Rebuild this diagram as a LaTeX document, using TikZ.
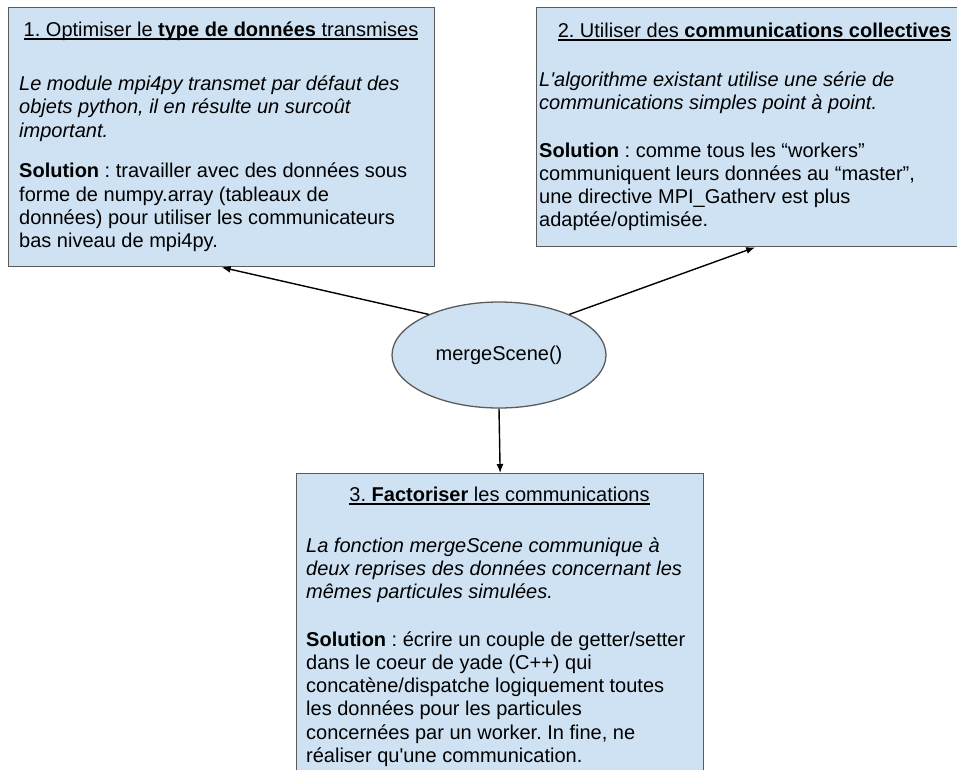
\documentclass[tikz,border=0pt]{standalone}
\usepackage{fontspec}
\setmainfont{Liberation Sans}
\usetikzlibrary{arrows.meta,shapes.geometric}
\definecolor{bleuclair}{HTML}{CFE2F3}
\definecolor{bordgris}{HTML}{5B5B5B}
\newcommand{\taille}{\fontsize{20}{23.3}\selectfont}
\newcommand{\souligne}[1]{\setbox0\hbox{#1}\rlap{\rule[-3.6pt]{\wd0}{1.2pt}}\box0}
\frenchspacing
\begin{document}
\begin{tikzpicture}[x=1pt, y=-1pt, font=\taille,
  bloc/.style={draw=bordgris, fill=bleuclair, line width=1.3pt, anchor=north west},
  fleche/.style={-{Latex[length=9pt,width=7pt]}, line width=1.4pt},
  titre/.style={anchor=base, inner sep=0pt},
  texte/.style={anchor=base west, align=left, inner sep=0pt}]
\useasboundingbox (0,0) rectangle (957,769);
\clip (0,0) rectangle (957,769);

% Type de donnees (texte place par sa derniere ligne)
\node[bloc, minimum width=426pt, minimum height=259pt] (bloc1) at (8,7) {};
\node[titre] (titre1) at (221,36) {\souligne{1. Optimiser le \textbf{type de données} transmises}};
\node[texte, font=\taille\itshape] (pb1) at (19,137.1) {Le module mpi4py transmet par défaut des\\objets python, il en résulte un surcoût\\important.};
\node[texte] (sol1) at (19,247.6) {\textbf{Solution} : travailler avec des données sous\\forme de numpy.array (tableaux de\\données) pour utiliser les communicateurs\\bas niveau de mpi4py.};

% Communications collectives
\node[bloc, minimum width=437pt, minimum height=239pt] (bloc2) at (536,7) {};
\node[titre] (titre2) at (754.5,37) {\souligne{2. Utiliser des \textbf{communications collectives}}};
\node[texte, font=\taille\itshape] (pb2) at (539,109.3) {L\textquotesingle algorithme existant utilise une série de\\communications simples point à point.};
\node[texte] (sol2) at (539,226.9) {\textbf{Solution} : comme tous les “workers”\\communiquent leurs données au “master”,\\une directive MPI\_Gatherv est plus\\adaptée/optimisée.};

% Factorisation
\node[bloc, minimum width=407pt, minimum height=330pt] (bloc3) at (296,473) {};
\node[titre] (titre3) at (499.5,501) {\souligne{3. \textbf{Factoriser} les communications}};
\node[texte, font=\taille\itshape] (pb3) at (306,598.6) {La fonction mergeScene communique à\\deux reprises des données concernant les\\mêmes particules simulées.};
\node[texte] (sol3) at (306,762.5) {\textbf{Solution} : écrire un couple de getter/setter\\dans le coeur de yade (C++) qui\\concatène/dispatche logiquement toutes\\les données pour les particules\\concernées par un worker. In fine, ne\\réaliser qu\textquotesingle une communication.};

% mergeScene
\node[ellipse, draw=bordgris, fill=bleuclair, line width=1.3pt, minimum width=214pt, minimum height=106pt, inner sep=0pt] (merge) at (499,355) {mergeScene()};

\draw[fleche] (merge.150) -- (bloc1.south);
\draw[fleche] (merge.30) -- (bloc2.south);
\draw[fleche] (merge.south) -- (bloc3.north);
\end{tikzpicture}
\end{document}
